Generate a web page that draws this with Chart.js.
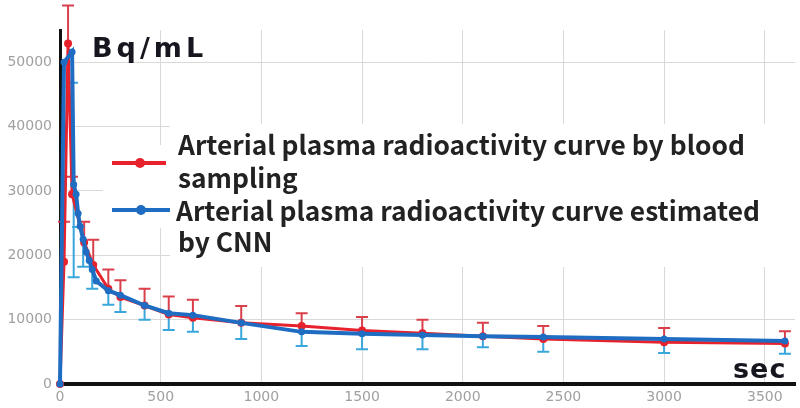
<!DOCTYPE html>
<html><head><meta charset="utf-8">
<script src="https://cdn.jsdelivr.net/npm/chart.js@4.4.1/dist/chart.umd.min.js"></script>
<style>html,body{margin:0;padding:0;background:#fff;}#wrap{width:800px;height:408px;position:relative;}</style>
</head><body><div id="wrap"><canvas id="c"></canvas></div>
<script>
// ---- data ----
const redTimes  = [0, 20, 40, 60, 120, 165, 240, 300, 420, 540, 660, 900, 1200, 1500, 1800, 2100, 2400, 3000, 3600];
const redValues = [0, 19000, 52900, 29500, 22000, 18500, 14800, 13500, 12200, 10800, 10300, 9500, 9000, 8300, 7900, 7400, 7000, 6500, 6300];
const redErrPlus = [0, 6200, 5900, 2700, 3200, 3900, 3000, 2600, 2600, 2800, 2800, 2600, 2000, 2100, 2100, 2100, 2000, 2200, 1900];

const blueTimes  = [0, 20, 60, 68, 80, 90, 100, 115, 130, 145, 160, 180, 240, 300, 420, 540, 660, 900, 1200, 1500, 1800, 2100, 2400, 3000, 3600];
const blueValues = [0, 50000, 51600, 31000, 29500, 26500, 24500, 22500, 20500, 19200, 17800, 16000, 14500, 13800, 12200, 11000, 10700, 9500, 8100, 7800, 7600, 7400, 7300, 7000, 6700];
const blueErrMinus = [0, 0, 4800, 14400, 0, 2100, 0, 4300, 0, 0, 3000, 0, 2200, 2600, 2200, 2600, 2600, 2500, 2200, 2400, 2200, 1700, 2300, 2200, 2000];

const xTickValues = [0, 500, 1000, 1500, 2000, 2500, 3000, 3500];
const yTickValues = [0, 10000, 20000, 30000, 40000, 50000];

const yUnit = 'Bq/mL';
const xUnit = 'sec';
const legendRed  = ['Arterial plasma radioactivity curve by blood', 'sampling'];
const legendBlue = ['Arterial plasma radioactivity curve estimated', 'by CNN'];

const RED = '#e8222c', RED_ERR = '#d9404c';
const BLUE = '#1f6dc2', BLUE_ERR = '#39a6dc';

function toPoints(t, v) { return t.map((x, i) => ({ x: x, y: v[i] })); }

const decorPlugin = {
  id: 'decor',
  beforeDatasetsDraw(chart) {
    const ctx = chart.ctx;
    const xs = chart.scales.x, ys = chart.scales.y;
    ctx.save();
    // legend backdrop hides the grid behind it
    ctx.fillStyle = '#fff';
    ctx.fillRect(170, 124, 625, 143);
    ctx.fillRect(103, 145, 67, 83);
    ctx.restore();
    const drawErr = (times, vals, errs, sign, color) => {
      ctx.save();
      ctx.strokeStyle = color; ctx.lineWidth = 2;
      times.forEach((t, i) => {
        const e = errs[i]; if (!e) return;
        const px = xs.getPixelForValue(t);
        const py = ys.getPixelForValue(vals[i]);
        const pe = ys.getPixelForValue(vals[i] + sign * e);
        ctx.beginPath();
        ctx.moveTo(px, py); ctx.lineTo(px, pe);
        ctx.moveTo(px - 6, pe); ctx.lineTo(px + 6, pe);
        ctx.stroke();
      });
      ctx.restore();
    };
    drawErr(redTimes, redValues, redErrPlus, 1, RED_ERR);
    drawErr(blueTimes, blueValues, blueErrMinus, -1, BLUE_ERR);
  },
  afterDraw(chart) {
    const ctx = chart.ctx;
    ctx.save();
    ctx.fillStyle = '#16161e';
    ctx.textBaseline = 'alphabetic';
    ctx.textAlign = 'left';
    ctx.font = 'bold 27px "DejaVu Sans"';
    ctx.letterSpacing = '4px';
    ctx.fillText(yUnit, 92, 57);
    ctx.font = 'bold 27px "DejaVu Sans"';
    ctx.letterSpacing = '1px';
    ctx.fillText(xUnit, 733, 378);
    ctx.letterSpacing = '0px';

    // legend
    ctx.font = 'bold 24px "Noto Sans CJK JP"';
    const w = ctx.measureText(legendRed[0]).width;
    const fs = 24 * 567 / w;
    ctx.font = 'bold ' + fs.toFixed(2) + 'px "Noto Sans CJK JP"';
    ctx.fillStyle = '#222';
    ctx.fillText(legendRed[0], 178, 155);
    ctx.fillText(legendRed[1], 178, 188);
    ctx.fillText(legendBlue[0], 176, 221);
    ctx.fillText(legendBlue[1], 178, 252);

    ctx.lineWidth = 4;
    ctx.strokeStyle = RED; ctx.fillStyle = RED;
    ctx.beginPath(); ctx.moveTo(112, 163); ctx.lineTo(166, 163); ctx.stroke();
    ctx.beginPath(); ctx.arc(140, 163, 5, 0, Math.PI * 2); ctx.fill();
    ctx.strokeStyle = BLUE; ctx.fillStyle = BLUE;
    ctx.beginPath(); ctx.moveTo(112, 210); ctx.lineTo(170, 210); ctx.stroke();
    ctx.beginPath(); ctx.arc(141, 210, 5, 0, Math.PI * 2); ctx.fill();
    ctx.restore();
  }
};

new Chart(document.getElementById('c'), {
  type: 'line',
  data: {
    datasets: [
      { label: legendBlue.join(' '), data: toPoints(blueTimes, blueValues), borderColor: BLUE, backgroundColor: BLUE,
        borderWidth: 4, pointRadius: 3.5, pointBorderWidth: 0, tension: 0, order: 0, clip: false },
      { label: legendRed.join(' '), data: toPoints(redTimes, redValues), borderColor: RED, backgroundColor: RED,
        borderWidth: 3, pointRadius: 4, pointBorderWidth: 0, tension: 0, order: 1, clip: false }
    ]
  },
  options: {
    responsive: true, maintainAspectRatio: false, animation: false,
    layout: { padding: { top: 30, right: 5, left: 0, bottom: 0 } },
    plugins: { legend: { display: false }, tooltip: { enabled: false } },
    scales: {
      x: {
        type: 'linear', min: 0, max: 3650,
        afterBuildTicks: (a) => { a.ticks = xTickValues.map(v => ({ value: v })); },
        afterFit: (a) => { a.height = 24; },
        ticks: { color: '#a0a0a0', font: { family: 'DejaVu Sans', size: 14 }, padding: 5, maxRotation: 0,
                 callback: (v) => String(v) },
        grid: { color: '#d9d9d9', lineWidth: 1, drawTicks: false },
        border: { color: '#111', width: 4 }
      },
      y: {
        type: 'linear', min: 0, max: 55000,
        afterBuildTicks: (a) => { a.ticks = yTickValues.map(v => ({ value: v })); },
        afterFit: (a) => { a.width = 60; },
        ticks: { color: '#a0a0a0', font: { family: 'DejaVu Sans', size: 14 }, padding: 8,
                 callback: (v) => String(v) },
        grid: { color: '#d9d9d9', lineWidth: 1, drawTicks: false },
        border: { color: '#111', width: 3 }
      }
    }
  },
  plugins: [decorPlugin]
});
</script>
</body></html>
